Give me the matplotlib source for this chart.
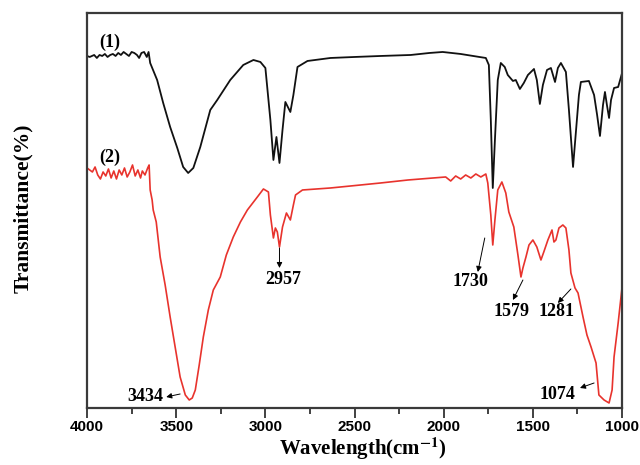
import numpy as np
import matplotlib
matplotlib.use("Agg")
import matplotlib.pyplot as plt

# spectrum (1): wavenumber (cm-1) and transmittance (arbitrary units)
wn_1 = [4000, 3985, 3960, 3945, 3930, 3915, 3900, 3885, 3870, 3855, 3840, 3825, 3810,
        3795, 3780, 3765, 3750, 3735, 3720, 3708, 3695, 3680, 3665, 3655, 3646,
        3607, 3573, 3534, 3494, 3461, 3433, 3404, 3365, 3309, 3270, 3197, 3124,
        3067, 3028, 3000, 2972, 2955, 2938, 2921, 2904, 2888, 2860, 2843, 2820,
        2764, 2635, 2500, 2354, 2185, 2080, 2006, 1905, 1800, 1764, 1747, 1736,
        1725, 1713, 1697, 1680, 1658, 1641, 1612, 1596, 1573, 1551, 1528, 1494,
        1478, 1461, 1444, 1421, 1399, 1376, 1360, 1343, 1315, 1298, 1275, 1258,
        1242, 1231, 1186, 1157, 1140, 1124, 1107, 1096, 1085, 1073, 1062, 1045,
        1022, 1000]
tr_1 = [352, 351, 353, 350, 353, 352, 354, 351, 353, 354, 352, 355, 353,
        356, 354, 352, 356, 355, 353, 350, 355, 356, 351, 356, 345,
        328, 305, 281, 260, 241, 235, 240, 261, 298, 308, 328, 343,
        348, 346, 340, 288, 248, 271, 245, 278, 306, 296, 313, 341,
        347, 350, 351, 352, 353, 355, 356, 354, 351, 350, 343, 288,
        220, 268, 328, 345, 341, 333, 327, 328, 319, 325, 333, 339,
        328, 304, 323, 338, 340, 326, 340, 345, 336, 298, 241, 278,
        313, 326, 327, 313, 293, 272, 303, 316, 303, 290, 308, 320,
        321, 335]

# spectrum (2)
wn_2 = [4000, 3985, 3970, 3955, 3940, 3925, 3910, 3895, 3880, 3865, 3850, 3835, 3820,
        3805, 3790, 3775, 3760, 3745, 3730, 3715, 3700, 3690, 3675, 3660, 3652,
        3646, 3635, 3629, 3612, 3590, 3562, 3534, 3506, 3478, 3449, 3427, 3410,
        3393, 3371, 3348, 3320, 3292, 3253, 3219, 3180, 3140, 3101, 3045, 3011,
        2983, 2972, 2955, 2944, 2933, 2921, 2904, 2882, 2860, 2843, 2831, 2792,
        2635, 2522, 2354, 2200, 1989, 1961, 1933, 1905, 1877, 1848, 1820, 1792,
        1764, 1753, 1736, 1725, 1713, 1697, 1674, 1652, 1635, 1607, 1584, 1567,
        1556, 1539, 1522, 1500, 1478, 1455, 1439, 1416, 1393, 1382, 1371, 1354,
        1332, 1315, 1298, 1287, 1264, 1247, 1219, 1197, 1174, 1146, 1130, 1101,
        1073, 1056, 1045, 1022, 1000]
tr_2 = [240, 238, 236, 241, 233, 229, 236, 232, 239, 230, 237, 229, 238,
        233, 240, 231, 236, 243, 232, 238, 230, 237, 233, 240, 243,
        218, 208, 198, 186, 151, 123, 91, 61, 31, 13, 8, 10,
        18, 43, 71, 98, 118, 131, 153, 171, 186, 198, 211, 219,
        216, 193, 170, 180, 176, 161, 181, 195, 188, 203, 213, 218,
        220, 222, 225, 228, 231, 227, 232, 229, 233, 230, 234, 231,
        234, 225, 193, 163, 188, 218, 226, 215, 196, 181, 153, 131,
        140, 151, 163, 168, 161, 148, 156, 168, 178, 166, 168, 180,
        183, 180, 158, 135, 120, 115, 91, 73, 61, 45, 13, 8,
        5, 18, 51, 85, 121]

# labels: text, text position, arrow tail (on curve), arrow tip (at label)
peak_text = ["3434", "2957", "1730", "1579", "1281", "1074"]
text_pos = [(3674, 11), (2899, 128), (1848, 126), (1618, 96), (1365, 96), (1360, 13)]
arrow_tail = [(3478, 14), (2921, 160), (1770, 170), (1556, 128), (1287, 119), (1157, 25)]
arrow_tip = [(3556, 11), (2921, 140), (1809, 136), (1612, 108), (1360, 105), (1236, 20)]

plt.rcParams['mathtext.fontset'] = 'stix'
serif = 'Liberation Serif'

fig = plt.figure(figsize=(6.4, 4.65), dpi=100)
ax = fig.add_axes([0.136, 0.1226, 0.836, 0.8495])

ax.plot(wn_1, tr_1, color='#111111', lw=1.3)
ax.plot(wn_2, tr_2, color='#e8332d', lw=1.2)

ax.text(3871, 366, '(1)', family=serif, weight='bold', fontsize=13, ha='center', va='center')
ax.text(3871, 251, '(2)', family=serif, weight='bold', fontsize=13, ha='center', va='center')

for lbl, tp, tail, tip in zip(peak_text, text_pos, arrow_tail, arrow_tip):
    ax.text(tp[0], tp[1], lbl, family=serif, weight='bold', fontsize=13,
            ha='center', va='center')
    ax.annotate('', xy=tip, xytext=tail,
                arrowprops=dict(arrowstyle='-|>', color='k', lw=0.7,
                                mutation_scale=8, shrinkA=0, shrinkB=0))

ax.set_xlim(4000, 1000)
ax.set_ylim(0, 395)
ax.set_xticks([4000, 3500, 3000, 2500, 2000, 1500, 1000])
ax.set_xticks(np.arange(1250, 4000, 500), minor=True)
ax.set_yticks([])
ax.tick_params(axis='x', which='major', length=7, width=1.3, color='#333333', direction='out', pad=2)
ax.tick_params(axis='x', which='minor', length=4, width=1.3, color='#333333', direction='out')
for t in ax.get_xticklabels():
    t.set_fontfamily('Liberation Sans')
    t.set_fontweight('bold')
    t.set_fontsize(11)
for sp in ax.spines.values():
    sp.set_linewidth(1.6)
    sp.set_color('#3a3a3a')

ax.set_xlabel(r'Wavelength(cm$^{\mathbf{-1}}$)', family=serif, weight='bold', fontsize=15)
ax.xaxis.set_label_coords(0.515, -0.071)
ax.set_ylabel('Transmittance(%)', family=serif, weight='bold', fontsize=15.5)
ax.yaxis.set_label_coords(-0.101, 0.506)

fig.savefig('out.png', dpi=100)
